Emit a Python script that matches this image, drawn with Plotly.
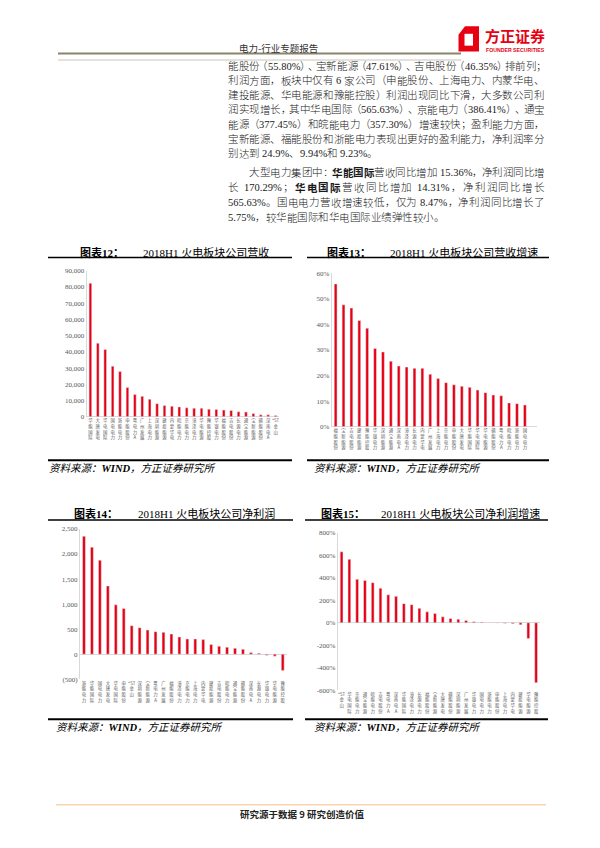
import plotly.graph_objects as go

# The page body has an 8px default margin: the figure is sized to fit the 600x848 window
# exactly, and reference pixel coordinates are mapped into it.
OFF = 8
FW, FH = 600 - 2 * OFF, 848 - 2 * OFF
def X(px): return (px - OFF) / FW
def Y(py): return 1 - (py - OFF) / FH

RED = "#e60012"

# ---------------- data ----------------
rev_names = ["华能国际","大唐发电","华电国际","国电电力","浙能电力","申能股份","粤电力A","广州发展",
             "上海电力","深圳能源","建投能源","内蒙华电","皖能电力","京能电力","漳泽电力","华电能源",
             "豫能控股","华银电力","福能股份","吉电股份","长源电力","通宝能源","宝新能源","赣能股份",
             "深南电A","*ST金山"]
rev_values = [82300,45400,41500,31200,27900,18100,13800,12600,10800,8100,6900,6500,6100,5500,5300,
              5300,4700,4500,4100,3900,3100,2900,2000,1200,1200,800]

revg_names = ["福能股份","宝新能源","吉电股份","建投能源","豫能控股","华银电力","深圳能源","通宝能源",
              "深南电A","漳泽电力","长源电力","内蒙华电","广州发展","上海电力","京能电力","申能股份",
              "大唐发电","华能国际","华电国际","华电能源","赣能股份","粤电力A","皖能电力","浙能电力",
              "国电电力"]
revg_values = [55.80,47.61,46.35,41.5,38.5,30.6,29.2,25.6,23.7,23.3,22.8,22.8,20.5,18.8,17.2,16.4,
               15.8,15.36,14.31,13.3,12.4,12.1,9.3,9.0,8.47]

np_names = ["浙能电力","华能国际","国电电力","大唐发电","华电国际","申能股份","*ST金山","深圳能源",
            "宝新能源","粤电力A","广州发展","福能股份","漳泽电力","京能电力","上海电力","内蒙华电",
            "建投能源","吉电股份","皖能电力","通宝能源","赣能股份","深南电A","长源电力","华银电力",
            "华电能源","豫能控股"]
np_values = [2354,2136,1878,1362,985,913,569,529,483,450,437,403,344,304,304,291,192,159,139,119,
             99,33,20,-20,-40,-324]

npg_names = ["*ST金山","华电国际","京能电力","通宝能源","皖能电力","吉电股份","粤电力A","深南电A",
             "华能国际","漳泽电力","长源电力","福能股份","宝新能源","大唐发电","赣能股份","深圳能源",
             "广州发展","华银电力","国电电力","浙能电力","申能股份","上海电力","内蒙华电","建投能源",
             "华电能源","豫能控股"]
npg_values = [632,565.63,386.41,377.45,357.30,308,249,235,170.29,161,129,97,82,53,38,32,21,9,5.75,3,
              -2,-5,-8,-18,-141,-534]

rev_ticks = [0,10000,20000,30000,40000,50000,60000,70000,80000,90000]
revg_ticks = [0,10,20,30,40,50,60]
np_ticks = [-500,0,500,1000,1500,2000,2500]
npg_ticks = [-600,-400,-200,0,200,400,600,800]

# ---------------- helpers ----------------
def stack(name):
    if name.startswith("*ST"):
        parts = ["*ST"] + list(name[3:])
    else:
        parts = list(name)
    return "<br>".join(parts)

def fmt_num(v):
    if v < 0:
        return "({:,})".format(-v)
    return "{:,}".format(v)

fig = go.Figure()

panels = [
    (rev_names, rev_values, "x", "y"),
    (revg_names, revg_values, "x2", "y2"),
    (np_names, np_values, "x3", "y3"),
    (npg_names, npg_values, "x4", "y4"),
]
for names, vals, xa, ya in panels:
    fig.add_trace(go.Bar(x=list(range(len(vals))), y=vals, marker_color=RED, width=0.36,
                         xaxis=xa, yaxis=ya, hoverinfo="skip", showlegend=False))

TICKFONT = dict(family="Liberation Serif", size=7, color="#595959")
XFONT = dict(family="Noto Sans CJK SC", size=4.4, color="#595959")
AXC = "#d9d9d9"

def xax(dom, names, anchor):
    return dict(domain=dom, range=[-0.5, 25.5], tickvals=list(range(len(names))),
                ticktext=[stack(n) for n in names], tickangle=0, showline=False, showgrid=False,
                zeroline=False, ticks="", tickfont=XFONT, anchor=anchor, fixedrange=True)

def yax(dom, rng, tickvals, ticktext, anchor):
    return dict(domain=dom, range=rng, tickvals=tickvals, ticktext=ticktext, showline=True,
                linecolor=AXC, linewidth=1, showgrid=False, zeroline=True, zerolinecolor=AXC,
                zerolinewidth=1, ticks="", tickfont=TICKFONT, anchor=anchor, fixedrange=True)

fig.update_layout(
    width=FW, height=FH, margin=dict(l=0, r=0, t=0, b=0),
    paper_bgcolor="white", plot_bgcolor="white",
    xaxis=xax([X(86.7), X(279.3)], rev_names, "y"),
    yaxis=yax([Y(416.7), Y(269.3)], [0, 90000], rev_ticks, [fmt_num(v) for v in rev_ticks], "x"),
    xaxis2=xax([X(331.7), X(536.7)], revg_names, "y2"),
    yaxis2=yax([Y(426.7), Y(271.7)], [0, 60], revg_ticks, [f"{v}%" for v in revg_ticks], "x2"),
    xaxis3=xax([X(80), X(286.7)], np_names, "y3"),
    yaxis3=yax([Y(681.7), Y(530)], [-500, 2500], np_ticks, [fmt_num(v) for v in np_ticks], "x3"),
    xaxis4=xax([X(337.7), X(540)], npg_names, "y4"),
    yaxis4=yax([Y(692.7), Y(534)], [-600, 800], npg_ticks, [f"{v}%" for v in npg_ticks], "x4"),
)

annotations = []
shapes = []

def ann(text, xpx, ypx, size, color="#000000", family="Liberation Serif, Noto Sans CJK SC",
        xanchor="left", weight=None):
    font = dict(family=family, size=size, color=color)
    if weight is not None:
        font["weight"] = weight
    annotations.append(dict(text=text, x=X(xpx), y=Y(ypx), xref="paper", yref="paper",
                            xanchor=xanchor, yanchor="middle", showarrow=False, borderpad=0,
                            font=font))

def hline(x0, x1, ypx, color, width):
    shapes.append(dict(type="line", xref="paper", yref="paper", x0=X(x0), x1=X(x1),
                       y0=Y(ypx), y1=Y(ypx), line=dict(color=color, width=width)))

# ---------------- header ----------------
hline(58, 461, 50, "#8c846a", 2)
hline(58, 461, 56.5, "#ddd8ca", 1.5)
ann("电力-行业专题报告", 278, 44, 9.5, "#333333", "Noto Sans CJK SC", "center")

def path(pts):
    return "M " + " L ".join(f"{X(a)},{Y(b)}" for a, b in pts) + " Z"
shapes.append(dict(type="path", xref="paper", yref="paper",
                   path=path([(465, 22.5), (479, 22.5), (479, 48), (458.5, 48), (458.5, 31)]),
                   fillcolor="#e60012", line=dict(width=0)))
shapes.append(dict(type="path", xref="paper", yref="paper",
                   path=path([(464.5, 30), (473, 30), (473, 42), (464.5, 42)]),
                   fillcolor="white", line=dict(width=0)))
ann("<b>方正证券</b>", 515.5, 32, 15, "#e60012", "Noto Sans CJK SC", "center")
ann("<b>FOUNDER SECURITIES</b>", 515.5, 46, 5.2, "#e60012", "Liberation Sans", "center")

# ---------------- body paragraph (justified) ----------------
OPEN = "（“"
CLOSE = "）、，；：。”"
TW = {'.': 0.25, '%': 0.833, ',': 0.25, ':': 0.278}

def tokenize(segs):
    out = []
    for text, bold in segs:
        buf = ""
        for ch in text:
            if ord(ch) < 128 and ch != " ":
                buf += ch
                continue
            if buf:
                out.append(("ascii", buf, bold)); buf = ""
            if ch == " ":
                out.append(("space", ch, bold))
            elif ch in OPEN:
                out.append(("open", ch, bold))
            elif ch in CLOSE:
                out.append(("close", ch, bold))
            else:
                out.append(("cjk", ch, bold))
        if buf:
            out.append(("ascii", buf, bold))
    return out

BODY_FONT = "Liberation Serif, Noto Sans CJK SC"
def draw_line(segs, x0, x1, ypx, size, justify):
    units = tokenize(segs)
    widths, shift = [], [0.0] * len(units)
    for kind, t, b in units:
        if kind in ("cjk", "open", "close"):
            widths.append(size)
        elif kind == "space":
            widths.append(0.25 * size)
        else:
            widths.append(sum(TW.get(c, 0.5) for c in t) * size)
    gap = 0.0
    if justify:
        extra = (x1 - x0) - sum(widths)
        if extra < 0:
            npunct = sum(1 for u in units if u[0] in ("open", "close"))
            cap = npunct * 0.5 * size
            c = min(1.0, -extra / cap) if cap > 0 else 0
            for i, u in enumerate(units):
                if u[0] in ("open", "close"):
                    red = c * 0.5 * size
                    widths[i] -= red
                    if u[0] == "open":
                        shift[i] = -red
            extra = (x1 - x0) - sum(widths)
        gap = extra / max(1, len(units) - 1)
    x = x0
    for i, (kind, t, b) in enumerate(units):
        if kind != "space":
            ann(f"<b>{t}</b>" if b else t, x + shift[i], ypx, size, "#1a1a1a", BODY_FONT,
                weight=None if b else 300)
        x += widths[i] + gap

TX0, TX1, FS = 227, 543.5, 10.5
para1 = [
    [("能股份（55.80%）、宝新能源（47.61%）、吉电股份（46.35%）排前列；", False)],
    [("利润方面，板块中仅有 6 家公司（申能股份、上海电力、内蒙华电、", False)],
    [("建投能源、华电能源和豫能控股）利润出现同比下滑，大多数公司利", False)],
    [("润实现增长，其中华电国际（565.63%）、京能电力（386.41%）、通宝", False)],
    [("能源（377.45%）和皖能电力（357.30%）增速较快；盈利能力方面，", False)],
    [("宝新能源、福能股份和浙能电力表现出更好的盈利能力，净利润率分", False)],
    [("别达到 24.9%、9.94%和 9.23%。", False)],
]
for i, segs in enumerate(para1):
    draw_line(segs, TX0, TX1, 62.7 + i * 14.75, FS, i < len(para1) - 1)

para2 = [
    [("大型电力集团中：", False), ("华能国际", True), ("营收同比增加 15.36%，净利润同比增", False)],
    [("长 170.29%；", False), ("华电国际", True), ("营收同比增加 14.31%，净利润同比增长", False)],
    [("565.63%。国电电力营收增速较低，仅为 8.47%，净利润同比增长了", False)],
    [("5.75%，较华能国际和华电国际业绩弹性较小。", False)],
]
for i, segs in enumerate(para2):
    x0 = TX0 + 2 * FS if i == 0 else TX0
    draw_line(segs, x0, TX1, 170.3 + i * 15.1, FS, i < len(para2) - 1)

# ---------------- chart titles, rules, sources ----------------
TFONT = "Liberation Serif, Noto Sans CJK SC"
ann("<b>图表12：</b>", 79, 250.5, 11, "#000", TFONT)
ann("2018H1 火电板块公司营收", 142, 250.5, 11, "#000", TFONT)
ann("<b>图表13：</b>", 326, 250.5, 11, "#000", TFONT)
ann("2018H1 火电板块公司营收增速", 389, 250.5, 11, "#000", TFONT)
ann("<b>图表14：</b>", 73, 514, 11, "#000", TFONT)
ann("2018H1 火电板块公司净利润", 137, 514, 11, "#000", TFONT)
ann("<b>图表15：</b>", 320, 514, 11, "#000", TFONT)
ann("2018H1 火电板块公司净利润增速", 380, 514, 11, "#000", TFONT)

hline(48, 292, 256, "#000000", 1.5)
hline(307, 549, 256, "#000000", 1.5)
hline(48, 293, 521, "#000000", 1.5)
hline(305, 548, 521, "#000000", 1.5)

hline(48, 292, 460.5, "#000000", 2)
hline(307, 549, 460.5, "#000000", 2)
hline(48, 293, 722, "#000000", 2)
hline(305, 548, 722, "#000000", 2)

SRC = "<i>资料来源：<b>WIND</b>，方正证券研究所</i>"
ann(SRC, 48, 469, 10.5, "#000", TFONT)
ann(SRC, 313, 469, 10.5, "#000", TFONT)
ann(SRC, 55, 730.5, 10.5, "#000", TFONT)
ann(SRC, 313, 730.5, 10.5, "#000", TFONT)

# ---------------- footer ----------------
hline(56, 546, 808.5, "#fbd3b0", 1.5)
ann("<b>研究源于数据 9 研究创造价值</b>", 302, 818, 9.5, "#222222", "Noto Sans CJK SC", "center")

fig.update_layout(annotations=annotations, shapes=shapes)
fig.write_html("out.html")
